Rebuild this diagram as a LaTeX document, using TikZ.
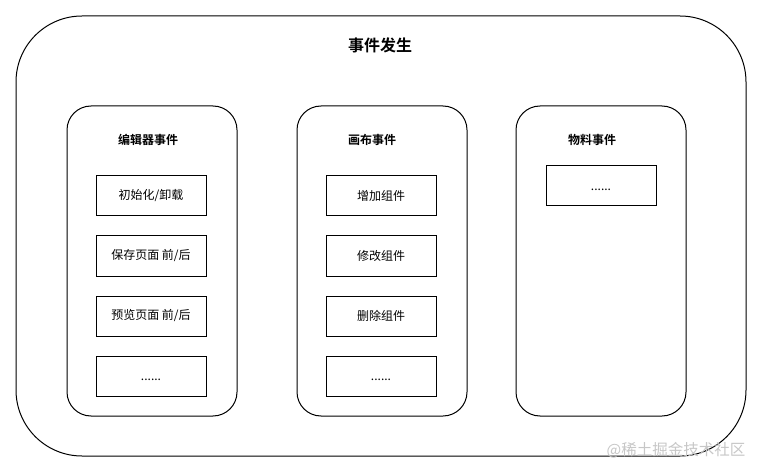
\documentclass[tikz,border=0pt]{standalone}
\usepackage{fontspec}
\setmainfont{Noto Sans CJK SC}
\newfontfamily\cjk{Noto Sans CJK SC}
\newfontfamily\cjkb{Noto Sans CJK SC Bold}
\newcommand{\moredots}{\vphantom{保}......}
\begin{document}
\begin{tikzpicture}[x=1pt,y=-1pt,
  outerbox/.style={draw=black,line width=1pt,rounded corners=66pt,minimum width=730pt,minimum height=440pt,inner sep=0pt},
  groupbox/.style={draw=black,line width=1pt,rounded corners=24pt,minimum width=170pt,minimum height=310pt,inner sep=0pt},
  itembox/.style={draw=black,line width=1pt,minimum width=110pt,minimum height=40pt,inner sep=0pt,font=\cjk\fontsize{12pt}{14pt}\selectfont},
  grouptitle/.style={inner sep=0pt,font=\cjkb\fontsize{12pt}{14pt}\selectfont},
  maintitle/.style={inner sep=0pt,font=\cjkb\fontsize{16pt}{19pt}\selectfont},
  mark text/.style={inner sep=0pt,text=black!22,font=\cjk\fontsize{15.5pt}{18pt}\selectfont}]
\useasboundingbox (0,0) rectangle (763,473);
\fill[white] (0,0) rectangle (763,473);
\node[outerbox] (outer) at (381,236) {};
\node[maintitle] (title) at (380,45) {事件发生};
% groups
\node[groupbox] (g1) at (152,261) {};
\node[groupbox] (g2) at (382,261) {};
\node[groupbox] (g3) at (601,261) {};
\node[grouptitle] (t1) at (148,140) {编辑器事件};
\node[grouptitle] (t2) at (372,140) {画布事件};
\node[grouptitle] (t3) at (592,140) {物料事件};
% items
\node[itembox] (a1) at (151,196) {初始化/卸载};
\node[itembox] (a2) at (151,256) {保存页面 前/后};
\node[itembox] (a3) at (151,316) {预览页面 前/后};
\node[itembox] (a4) at (151,376) {\moredots};
\node[itembox] (b1) at (381,196) {增加组件};
\node[itembox] (b2) at (381,256) {修改组件};
\node[itembox] (b3) at (381,316) {删除组件};
\node[itembox] (b4) at (381,376) {\moredots};
\node[itembox] (c1) at (601,186) {\moredots};
\node[mark text] (wm) at (676,450) {@稀土掘金技术社区};
\end{tikzpicture}
\end{document}
